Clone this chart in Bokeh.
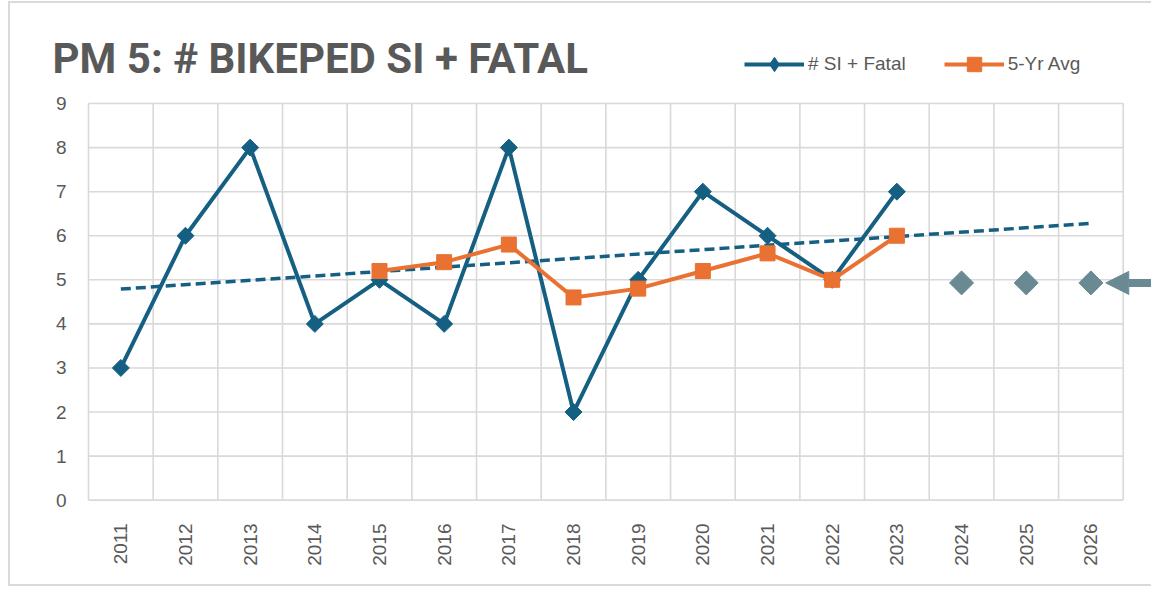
import math
from bokeh.plotting import figure
from bokeh.models import (Range1d, FixedTicker, Label, Legend, LegendItem, Arrow, NormalHead)
from bokeh.embed import file_html
from bokeh.resources import INLINE

# ---- data ----
years = [2011, 2012, 2013, 2014, 2015, 2016, 2017, 2018, 2019, 2020, 2021, 2022, 2023, 2024, 2025, 2026]
year_labels = [str(y) for y in years]
si_years = [2011, 2012, 2013, 2014, 2015, 2016, 2017, 2018, 2019, 2020, 2021, 2022, 2023]
si_fatal = [3, 6, 8, 4, 5, 4, 8, 2, 5, 7, 6, 5, 7]
avg_years = [2015, 2016, 2017, 2018, 2019, 2020, 2021, 2022, 2023]
avg_5yr = [5.2, 5.4, 5.8, 4.6, 4.8, 5.2, 5.6, 5.0, 6.0]
trend_years = [2011, 2026]
trend_vals = [4.79, 6.28]
target_years = [2024, 2025, 2026]
target_vals = [4.93, 4.93, 4.93]
y_ticks = [0, 1, 2, 3, 4, 5, 6, 7, 8, 9]
y_labels = [str(t) for t in y_ticks]

BLUE = "#156082"
ORANGE = "#E97132"
GREY = "#6A8A93"
TEXT = "#595959"
GRID = "#d9d9d9"

x_lo = years[0] - 0.5
x_hi = years[-1] + 0.5
y_lo = y_ticks[0]
y_hi = y_ticks[-1]

p = figure(width=1143, height=585, output_backend="svg", toolbar_location=None,
           x_range=Range1d(x_lo - 1.206, x_hi + 0.468), y_range=Range1d(-0.28, 11.27),
           y_axis_location=None,
           min_border_left=0, min_border_right=0, min_border_top=0, min_border_bottom=76)
p.styles = {"margin-left": "8px", "margin-top": "1px",
            "border-left": "2px solid #d9d9d9", "border-top": "2px solid #d9d9d9",
            "border-bottom": "2px solid #d9d9d9"}
p.outline_line_color = None
p.grid.visible = False

# x axis
p.xaxis.ticker = FixedTicker(ticks=years)
p.xaxis.major_label_overrides = {y: l for y, l in zip(years, year_labels)}
p.xaxis.major_label_orientation = math.pi / 2
p.xaxis.axis_line_color = None
p.xaxis.major_tick_line_color = None
p.xaxis.minor_tick_line_color = None
p.xaxis.major_label_text_color = TEXT
p.xaxis.major_label_text_font = "Liberation Sans"
p.xaxis.major_label_text_font_size = "19px"
p.xaxis.major_label_standoff = 5

# gridlines (category boundaries and value ticks), limited to the plot area
xb = [y - 0.5 for y in years] + [x_hi]
p.segment(x0=xb, y0=[y_lo] * len(xb), x1=xb, y1=[y_hi] * len(xb),
          line_color=GRID, line_width=1.6)
p.segment(x0=[x_lo] * len(y_ticks), y0=y_ticks, x1=[x_hi] * len(y_ticks), y1=y_ticks,
          line_color=GRID, line_width=1.6)

# y tick labels
p.text(x=[x_lo] * len(y_ticks), y=y_ticks, text=y_labels, x_offset=-22,
       text_align="right", text_baseline="middle", text_color=TEXT,
       text_font={"value": "Liberation Sans"}, text_font_size="19px")

# trend line
p.line(trend_years, trend_vals, line_color=BLUE, line_width=3.5, line_dash="10 5")

# series
l1 = p.line(si_years, si_fatal, line_color=BLUE, line_width=4)
# legend swatch for the diamonds (legend ignores marker angle); hidden under the real markers
k1 = p.scatter(si_years, si_fatal, marker="diamond", size=11,
               fill_color=BLUE, line_color=BLUE)
s1 = p.scatter(si_years, si_fatal, marker="square", size=12, angle=math.pi / 4,
               fill_color=BLUE, line_color=BLUE)
l2 = p.line(avg_years, avg_5yr, line_color=ORANGE, line_width=4)
s2 = p.scatter(avg_years, avg_5yr, marker="square", size=15,
               fill_color=ORANGE, line_color=ORANGE)

# targets
p.scatter(target_years, target_vals, marker="square", size=17, angle=math.pi / 4,
          fill_color=GREY, line_color=GREY)

# arrow pointing to last target
p.add_layout(Arrow(end=NormalHead(size=23, fill_color=GREY, line_color=GREY),
                   x_start=target_years[-1] + 1.5, y_start=target_vals[-1],
                   x_end=target_years[-1] + 0.23, y_end=target_vals[-1],
                   line_color=GREY, line_width=8))

# title
p.add_layout(Label(x=42, y=454, x_units="screen", y_units="screen",
                   text="PM 5: # BIKEPED SI + FATAL", text_font="Roboto",
                   text_font_style="bold", text_font_size="42px", text_color=TEXT,
                   text_baseline="middle"))

# legend
legend = Legend(items=[LegendItem(label="# SI + Fatal", renderers=[l1, k1]),
                       LegendItem(label="5-Yr Avg", renderers=[l2, s2])],
                orientation="horizontal", location=(734, 430),
                label_text_font="Liberation Sans", label_text_font_size="19px",
                label_text_color=TEXT, glyph_width=60, glyph_height=36,
                spacing=38, label_standoff=4, background_fill_alpha=0,
                border_line_color=None, padding=4, margin=0)
p.add_layout(legend, "center")

open("out.html", "w").write(file_html(p, INLINE))
